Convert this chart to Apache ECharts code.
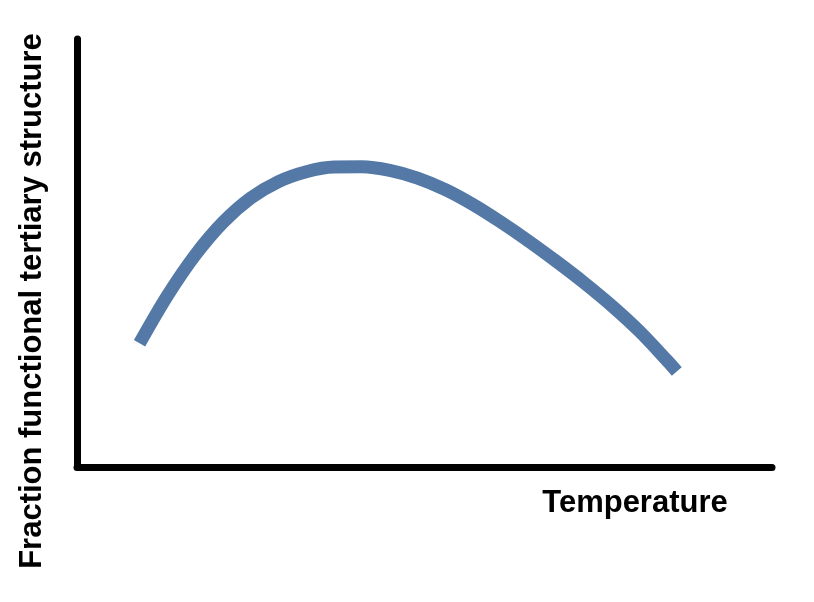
<!DOCTYPE html>
<html>
<head>
<meta charset="utf-8">
<script src="https://cdn.jsdelivr.net/npm/echarts@6/dist/echarts.min.js"></script>
<style>html,body{margin:0;padding:0;background:#fff}#c{width:814px;height:602px}</style>
</head>
<body>
<div id="c"></div>
<script>
var temperature = [9, 13, 17, 21, 25, 29, 33, 37, 41, 45, 49, 53, 57, 61, 65, 69, 73, 77, 81, 85, 86.3];
var fraction    = [28.9, 40.0, 49.5, 57.15, 62.85, 66.7, 69.0, 70.1, 70.15, 69.3, 67.5, 64.8, 61.3, 57.2, 52.75, 48.0, 43.0, 37.6, 31.6, 24.7, 22.3];
var xTitle = 'Temperature';
var yTitle = 'Fraction functional tertiary structure';

var chart = echarts.init(document.getElementById('c'));
var pts = temperature.map(function (t, i) { return [t, fraction[i]]; });
var font = 'bold 31px "Liberation Sans", Arial, sans-serif';
chart.setOption({
  animation: false,
  backgroundColor: '#ffffff',
  grid: { left: 77, right: 42, top: 39, bottom: 135 },
  xAxis: {
    type: 'value', min: 0, max: 100,
    axisLine: { show: true, lineStyle: { color: '#000', width: 7 } },
    axisTick: { show: false }, axisLabel: { show: false }, splitLine: { show: false }
  },
  yAxis: {
    type: 'value', min: 0, max: 100,
    axisLine: { show: true, lineStyle: { color: '#000', width: 7 } },
    axisTick: { show: false }, axisLabel: { show: false }, splitLine: { show: false }
  },
  series: [{
    type: 'line',
    data: pts,
    smooth: 0.33,
    showSymbol: false,
    lineStyle: { color: '#5579a7', width: 13, cap: 'butt' }
  }],
  graphic: [
    { type: 'text', x: 635, y: 503, style: { text: xTitle, font: font, fill: '#000', align: 'center', verticalAlign: 'middle' } },
    { type: 'text', x: 32, y: 301, rotation: Math.PI / 2, style: { text: yTitle, font: font, fill: '#000', align: 'center', verticalAlign: 'middle' } }
  ]
});
</script>
</body>
</html>
